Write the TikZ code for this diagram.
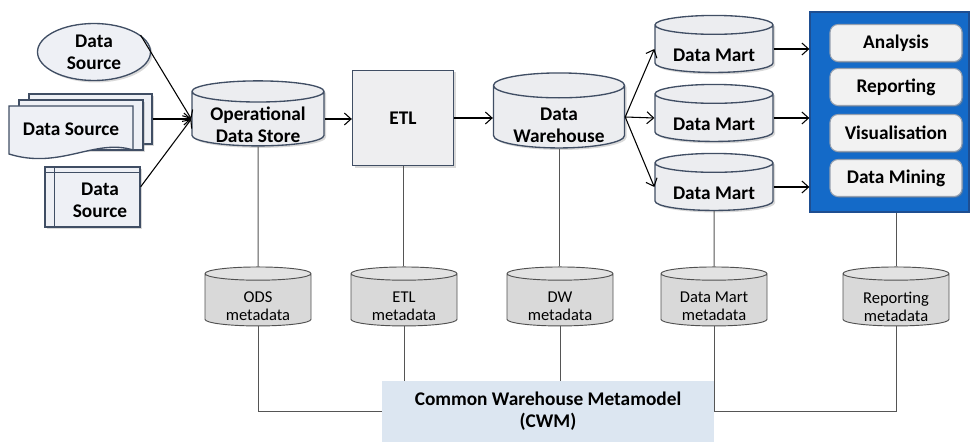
\documentclass[tikz,border=0pt]{standalone}
\usepackage{fontspec}
\setmainfont{Carlito}
\usetikzlibrary{shapes.geometric,shadows,arrows.meta,positioning}
\definecolor{edge}{RGB}{64,78,100}
\definecolor{srcfill}{RGB}{238,240,245}
\definecolor{dbfill}{RGB}{236,237,240}
\definecolor{etlfill}{RGB}{238,238,240}
\definecolor{metafill}{RGB}{217,217,217}
\definecolor{metatop}{RGB}{226,226,226}
\definecolor{metaedge}{RGB}{80,80,80}
\definecolor{appblue}{RGB}{20,106,200}
\definecolor{appedge}{RGB}{30,78,145}
\definecolor{btnfill}{RGB}{242,242,242}
\definecolor{btnedge}{RGB}{150,160,175}
\definecolor{cwmfill}{RGB}{220,230,241}
\definecolor{linkgray}{RGB}{85,85,85}
\begin{document}
\begin{tikzpicture}[x=0.75pt,y=-0.75pt]
	\tikzstyle{lbl}=[font=\bfseries\fontsize{14.5}{16.5}\selectfont,align=center,inner sep=0pt]
	\tikzstyle{mlbl}=[font=\fontsize{12.4}{13.5}\selectfont,align=center,inner sep=0pt]
	\tikzstyle{src}=[lbl,draw=edge,line width=1pt,fill=srcfill,drop shadow={opacity=0.3,shadow xshift=1.5pt,shadow yshift=-1.5pt}]
	\tikzstyle{db}=[cylinder,shape border rotate=90,draw=edge,line width=1pt,fill=dbfill,inner sep=0pt,drop shadow={opacity=0.3,shadow xshift=1.5pt,shadow yshift=-1.5pt}]
	\tikzstyle{meta}=[cylinder,shape border rotate=90,draw=metaedge,line width=0.7pt,cylinder uses custom fill,cylinder body fill=metafill,cylinder end fill=metatop,aspect=0.125,minimum width=79.5pt,text width=79.5pt,minimum height=44.25pt,inner sep=0pt]
	\tikzstyle{btn}=[lbl,draw=btnedge,line width=0.8pt,fill=btnfill,rounded corners=6pt,minimum width=99pt,minimum height=27.75pt,drop shadow={opacity=0.35,shadow xshift=1pt,shadow yshift=-1pt}]
	\tikzstyle{flow}=[draw=black,line width=0.8pt,-{Straight Barb[length=5pt,width=9pt]}]
	\tikzstyle{link}=[draw=linkgray,line width=0.75pt]
	\useasboundingbox (0,0) rectangle (973,442);
	% sources
	\node[src,ellipse,minimum width=84.75pt,minimum height=42.75pt] (src1) at (94,52) {Data\\Source};
	\node[src,minimum width=92.25pt,minimum height=37.5pt] (src2) at (90.5,119) {};
	\node[src,minimum width=93pt,minimum height=37.5pt] (src2b) at (81,125) {};
	\filldraw[draw=edge,fill=srcfill,line width=1pt] (9,106) -- (133,106) -- (133,150) .. controls (95,138) and (60,170) .. (9,154) -- cycle;
	\node[lbl] (src2t) at (71,129) {Data Source};
	\node[src,minimum width=71.25pt,minimum height=45pt] (src3) at (92.5,197) {};
	\draw[draw=edge,line width=1pt] ([yshift=-4.5pt]src3.north west) -- ([yshift=-4.5pt]src3.north east);
	\draw[draw=edge,line width=1pt] ([xshift=7.5pt]src3.north west) -- ([xshift=7.5pt]src3.south west);
	\node[lbl] (src3t) at (100,200) {Data\\Source};
	% main flow
	\node[db,aspect=0.16,minimum width=99pt,text width=99pt,minimum height=48.75pt] (ods) at (258,119) {};
	\node[lbl] (odst) at (258,125) {Operational\\Data Store};
	\node[src,fill=etlfill,minimum width=75.75pt,minimum height=71.25pt] (etl) at (403,118) {ETL};
	\node[db,aspect=0.19,minimum width=98.25pt,text width=98.25pt,minimum height=56.25pt] (dw) at (559,117) {};
	\node[lbl] (dwt) at (559,125) {Data\\Warehouse};
	\node[db,aspect=0.16,minimum width=88.5pt,text width=88.5pt,minimum height=42.75pt] (dm1) at (714,49) {};
	\node[db,aspect=0.16,minimum width=88.5pt,text width=88.5pt,minimum height=42.75pt] (dm2) at (714,118) {};
	\node[db,aspect=0.16,minimum width=88.5pt,text width=88.5pt,minimum height=42.75pt] (dm3) at (714,187) {};
	\node[lbl] (dm1t) at (714,55) {Data Mart};
	\node[lbl] (dm2t) at (714,124) {Data Mart};
	\node[lbl] (dm3t) at (714,193) {Data Mart};
	% applications
	\node[draw=appedge,line width=1pt,fill=appblue,minimum width=119.25pt,minimum height=150pt,inner sep=0pt] (app) at (889.5,112) {};
	\node[btn] (ana) at (896,43) {Analysis};
	\node[btn] (rep) at (896,87) {Reporting};
	\node[btn] (vis) at (896,133) {Visualisation};
	\node[btn] (mine) at (896,178) {Data Mining};
	\draw[flow] (src1.20) -- (ods.west);
	\draw[flow] (src2.east) -- (ods.west);
	\draw[flow] (src3.12) -- (ods.west);
	\draw[flow] (ods.east) -- (ods.east -| etl.west);
	\draw[flow] (etl.east) -- (etl.east -| dw.west);
	\draw[flow] (dw.east) -- (dm1.west);
	\draw[flow] (dw.east) -- (dm2.west);
	\draw[flow] (dw.east) -- (dm3.west);
	\draw[flow] (dm1.east) -- (dm1.east -| app.west);
	\draw[flow] (dm2.east) -- (dm2.east -| app.west);
	\draw[flow] (dm3.east) -- (dm3.east -| app.west);
	% metadata
	\node[meta] (odsm) at (258,300) {};
	\node[meta] (etlm) at (404,300) {};
	\node[meta] (dwm) at (560,300) {};
	\node[meta] (dmm) at (714,300) {};
	\node[meta] (repm) at (896,300) {};
	\node[mlbl] (odsmt) at (258,306.5) {ODS\\metadata};
	\node[mlbl] (etlmt) at (404,306.5) {ETL\\metadata};
	\node[mlbl] (dwmt) at (560,306.5) {DW\\metadata};
	\node[mlbl] (dmmt) at (714,306.5) {Data Mart\\metadata};
	\node[mlbl] (repmt) at (896,306.5) {Reporting\\metadata};
	\node[lbl,fill=cwmfill,minimum width=249pt,minimum height=45.75pt] (cwm) at (548,411.5) {Common Warehouse Metamodel\\(CWM)};
	\draw[link] (ods.south) -- (odsm.north);
	\draw[link] (etl.south) -- (etl.south |- etlm.north);
	\draw[link] (dw.south) -- (dw.south |- dwm.north);
	\draw[link] (dm3.south) -- (dmm.north);
	\draw[link] (app.south -| repm.north) -- (repm.north);
	\draw[link] (odsm.south) |- (cwm.west);
	\draw[link] (etlm.south) -- (etlm.south |- cwm.north);
	\draw[link] (dwm.south) -- (dwm.south |- cwm.north);
	\draw[link] (dmm.south) -- (dmm.south |- cwm.east);
	\draw[link] (repm.south) |- (cwm.east);
\end{tikzpicture}
\end{document}
